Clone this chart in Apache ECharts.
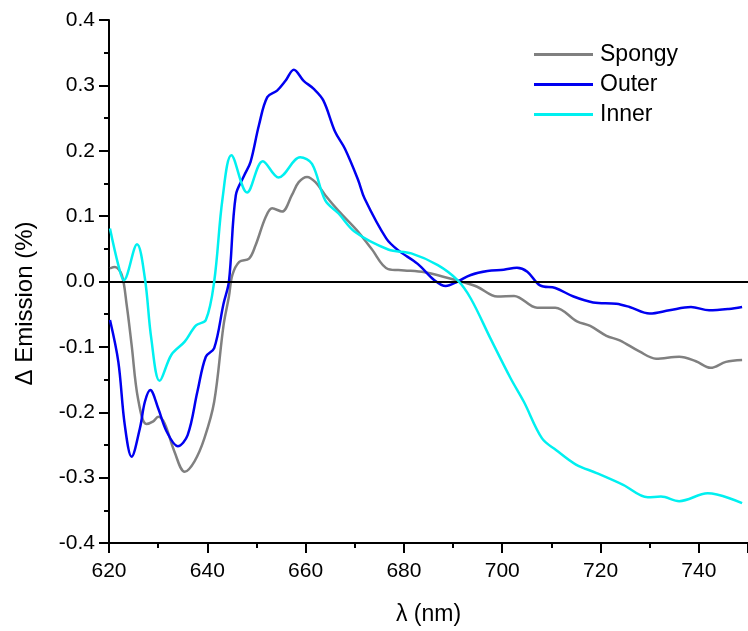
<!DOCTYPE html>
<html>
<head>
<meta charset="utf-8">
<script src="https://cdn.jsdelivr.net/npm/echarts@6/dist/echarts.min.js"></script>
<style>
html,body{margin:0;padding:0;background:#fff;}
#chart{width:748px;height:631px;}
</style>
</head>
<body>
<div id="chart"></div>
<script>
const xTicks = [620, 640, 660, 680, 700, 720, 740];
const seriesNames = ['Spongy', 'Outer', 'Inner'];

const spongyNm  = [620.2, 621.2, 622.6, 623.6, 624.6, 625.9, 627.6, 629.0, 630.0, 631.3, 633.3, 635.4, 637.4, 639.4, 641.4, 643.3, 644.4, 645.1, 646.5, 648.5, 649.8, 651.9, 653.2, 655.2, 657.2, 658.6, 660.3, 662.0, 664.0, 666.7, 670.7, 673.4, 676.8, 680.1, 684.2, 688.2, 691.6, 694.9, 699.0, 702.4, 707.1, 710.8, 715.2, 717.9, 721.2, 723.9, 727.9, 731.3, 736.0, 739.4, 742.4, 745.5, 748.8];
const spongyVal = [0.020, 0.022, 0.010, -0.036, -0.097, -0.179, -0.218, -0.214, -0.207, -0.217, -0.260, -0.291, -0.275, -0.240, -0.184, -0.067, -0.023, 0.010, 0.030, 0.035, 0.055, 0.099, 0.112, 0.107, 0.132, 0.152, 0.160, 0.152, 0.132, 0.108, 0.076, 0.050, 0.019, 0.017, 0.014, 0.007, 0.000, -0.008, -0.023, -0.022, -0.040, -0.040, -0.061, -0.068, -0.083, -0.090, -0.107, -0.118, -0.115, -0.122, -0.132, -0.123, -0.120];

const outerNm  = [620.2, 621.9, 623.2, 624.6, 626.3, 627.3, 628.4, 630.0, 631.7, 634.0, 636.0, 638.0, 639.7, 641.4, 643.3, 644.4, 645.8, 647.5, 648.8, 650.5, 652.2, 654.2, 655.9, 657.6, 659.6, 661.6, 663.6, 666.0, 668.0, 670.7, 672.0, 676.4, 678.8, 682.8, 686.2, 688.5, 690.9, 693.6, 697.0, 700.3, 703.0, 705.1, 707.7, 710.8, 714.5, 718.5, 723.2, 725.9, 730.0, 734.0, 738.4, 742.1, 746.1, 748.8];
const outerVal = [-0.059, -0.123, -0.219, -0.268, -0.224, -0.184, -0.166, -0.194, -0.229, -0.252, -0.235, -0.168, -0.115, -0.102, -0.034, 0.000, 0.132, 0.162, 0.183, 0.239, 0.282, 0.292, 0.307, 0.324, 0.307, 0.295, 0.277, 0.229, 0.203, 0.155, 0.127, 0.066, 0.048, 0.027, 0.002, -0.007, 0.000, 0.010, 0.016, 0.018, 0.021, 0.015, -0.006, -0.010, -0.023, -0.032, -0.034, -0.039, -0.049, -0.044, -0.039, -0.044, -0.042, -0.039];

const innerNm  = [620.2, 621.9, 623.0, 625.7, 627.3, 628.6, 630.3, 632.7, 635.4, 637.7, 639.7, 641.4, 643.1, 644.9, 648.1, 651.3, 654.5, 658.9, 661.3, 664.0, 666.7, 670.0, 676.8, 681.5, 686.9, 690.9, 693.6, 697.6, 701.7, 704.4, 708.1, 711.0, 715.0, 719.2, 724.6, 729.6, 732.3, 736.0, 741.8, 748.8];
const innerVal = [0.081, 0.025, 0.002, 0.057, 0.005, -0.087, -0.152, -0.112, -0.092, -0.067, -0.059, 0.000, 0.127, 0.193, 0.136, 0.184, 0.159, 0.190, 0.180, 0.124, 0.104, 0.076, 0.049, 0.043, 0.025, 0.002, -0.026, -0.087, -0.148, -0.184, -0.240, -0.258, -0.280, -0.293, -0.311, -0.330, -0.329, -0.336, -0.324, -0.339];

const colors = ['#808080', '#0000F0', '#00F0F0'];

function pairs(xs, ys) { return xs.map((x, i) => [x, ys[i]]); }

const chart = echarts.init(document.getElementById('chart'), null, {renderer: 'canvas'});
const font = 'Liberation Sans, Arial, sans-serif';
const fs = 21;

chart.setOption({
  animation: false,
  backgroundColor: '#ffffff',
  textStyle: {fontFamily: font},
  grid: {left: 109, top: 20, width: 643.5, bottom: 86, containLabel: false},
  legend: {
    data: seriesNames,
    orient: 'vertical',
    left: 534,
    top: 43,
    padding: 0,
    icon: 'rect',
    itemWidth: 59,
    itemHeight: 3,
    itemGap: 7,
    textStyle: {fontFamily: font, fontSize: 23, color: '#000', padding: [0, 0, 0, 2]}
  },
  xAxis: {
    type: 'value',
    min: 620,
    max: 750,
    interval: 20,
    name: 'λ (nm)',
    nameLocation: 'middle',
    nameGap: 60,
    nameTextStyle: {fontFamily: font, fontSize: 23, color: '#000'},
    axisLine: {show: true, onZero: false, lineStyle: {color: '#000', width: 2}},
    axisTick: {show: true, inside: false, length: 10, lineStyle: {color: '#000', width: 2}},
    minorTick: {show: true, splitNumber: 2, length: 5, lineStyle: {color: '#000', width: 2}},
    splitLine: {show: false},
    axisLabel: {
      fontFamily: font, fontSize: fs, color: '#000', margin: 18,
      customValues: xTicks,
      formatter: v => String(v)
    }
  },
  yAxis: {
    type: 'value',
    min: -0.4,
    max: 0.4,
    interval: 0.1,
    name: 'Δ Emission (%)',
    nameLocation: 'middle',
    nameGap: 72,
    nameTextStyle: {fontFamily: font, fontSize: 24, color: '#000', padding: [0, 44, 0, 0]},
    axisLine: {show: true, onZero: false, lineStyle: {color: '#000', width: 2}},
    axisTick: {show: true, inside: false, length: 10, lineStyle: {color: '#000', width: 2}},
    minorTick: {show: true, splitNumber: 2, length: 5, lineStyle: {color: '#000', width: 2}},
    splitLine: {show: false},
    axisLabel: {
      fontFamily: font, fontSize: fs, color: '#000', margin: 14,
      formatter: v => v.toFixed(1)
    }
  },
  series: [
    {
      name: seriesNames[0], type: 'line', data: pairs(spongyNm, spongyVal),
      smooth: 0.35, showSymbol: false, symbol: 'none',
      lineStyle: {color: colors[0], width: 2.5}, itemStyle: {color: colors[0]},
      z: 3,
      markLine: {
        silent: true, symbol: 'none', label: {show: false},
        lineStyle: {color: '#000', width: 2, type: 'solid'},
        data: [{yAxis: 0}]
      }
    },
    {
      name: seriesNames[1], type: 'line', data: pairs(outerNm, outerVal),
      smooth: 0.35, showSymbol: false, symbol: 'none',
      lineStyle: {color: colors[1], width: 2.5}, itemStyle: {color: colors[1]}, z: 4
    },
    {
      name: seriesNames[2], type: 'line', data: pairs(innerNm, innerVal),
      smooth: 0.35, showSymbol: false, symbol: 'none',
      lineStyle: {color: colors[2], width: 2.5}, itemStyle: {color: colors[2]}, z: 5
    }
  ]
});
</script>
</body>
</html>
